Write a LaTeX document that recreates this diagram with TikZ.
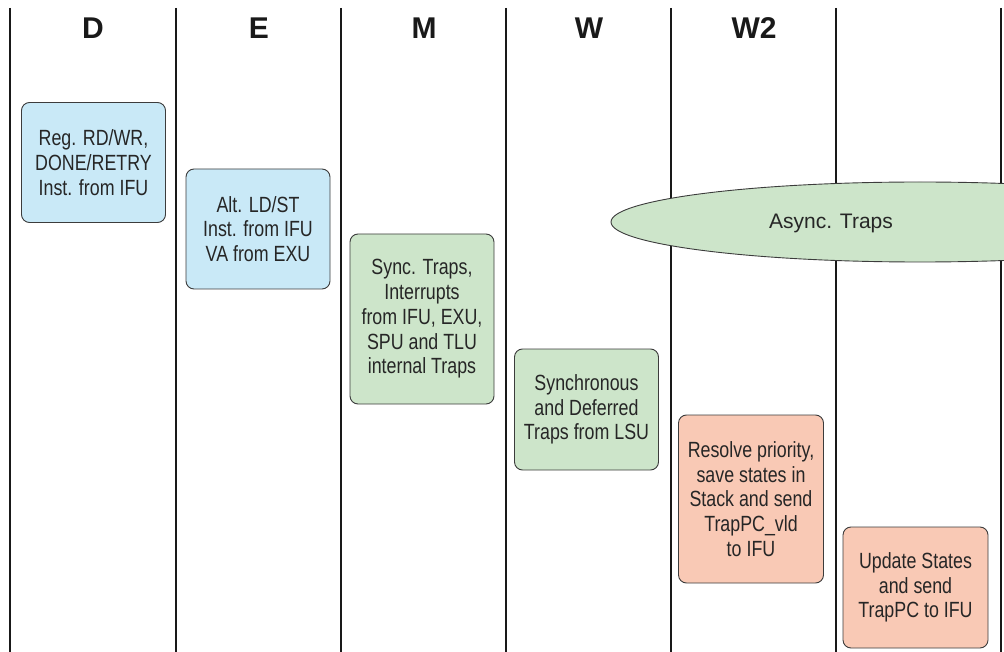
\documentclass[tikz,border=0pt]{standalone}
\usepackage{fontspec}
\setmainfont{Liberation Sans}
\newfontfamily\narrowfont[FakeStretch=0.81]{Liberation Sans}

\definecolor{trapblue}{HTML}{C9E9F7}
\definecolor{trapgreen}{HTML}{CDE5CA}
\definecolor{trapred}{HTML}{F9C9B5}
\definecolor{edgegray}{HTML}{3C3C3C}

\begin{document}
\begin{tikzpicture}[x=1pt, y=-1pt,
    stage/.style={font=\fontsize{30}{30}\selectfont\bfseries, text=black!90},
    lane/.style={line width=2.7pt, black!90},
    box/.style={draw=edgegray, line width=0.9pt, rounded corners=8pt, align=center,
        inner sep=0pt, minimum width=144pt, text=black!85,
        font=\narrowfont\fontsize{22}{24.8}\selectfont}]
    \useasboundingbox (0,0) rectangle (1004,652);
    \clip (0,0) rectangle (1004,652);

    % pipeline lanes
    \foreach \x in {10,176,341,506,671,836,1001}
        \draw[lane] (\x,8) -- (\x,652);
    \foreach \name/\x in {D/93,E/259,M/424,W/589,W2/754}
        \node[stage] (h\name) at (\x,28) {\name};

    % trap sources
    \node[box, fill=trapblue, minimum height=120pt] (regrd) at (93.5,162.5)
        {Reg. RD/WR,\\DONE/RETRY\\Inst. from IFU};
    \node[box, fill=trapblue, minimum height=120pt] (altld) at (258,229)
        {Alt. LD/ST\\Inst. from IFU\\VA from EXU};
    \node[box, fill=trapgreen, minimum height=170pt] (synctrap) at (422,319)
        {Sync. Traps,\\Interrupts\\from IFU, EXU,\\SPU and TLU\\internal Traps};
    \node[box, fill=trapgreen, minimum height=121pt] (lsutrap) at (586.5,409.5)
        {Synchronous\\and Deferred\\Traps from LSU};

    % async traps
    \draw[edgegray, line width=0.9pt, fill=trapgreen] (920,222) ellipse [x radius=309, y radius=40];
    \node[font=\fontsize{21}{24}\selectfont, text=black!85] (async) at (831,223.5) {Async. Traps};

    % resolution
    \node[box, fill=trapred, minimum width=145pt, minimum height=168pt] (resolve) at (751,499)
        {Resolve priority,\\save states in\\Stack and send\\TrapPC\_vld\\to IFU};
    \node[box, fill=trapred, minimum width=145pt, minimum height=121pt] (update) at (915.5,587.5)
        {Update States\\and send\\TrapPC to IFU};
\end{tikzpicture}
\end{document}
